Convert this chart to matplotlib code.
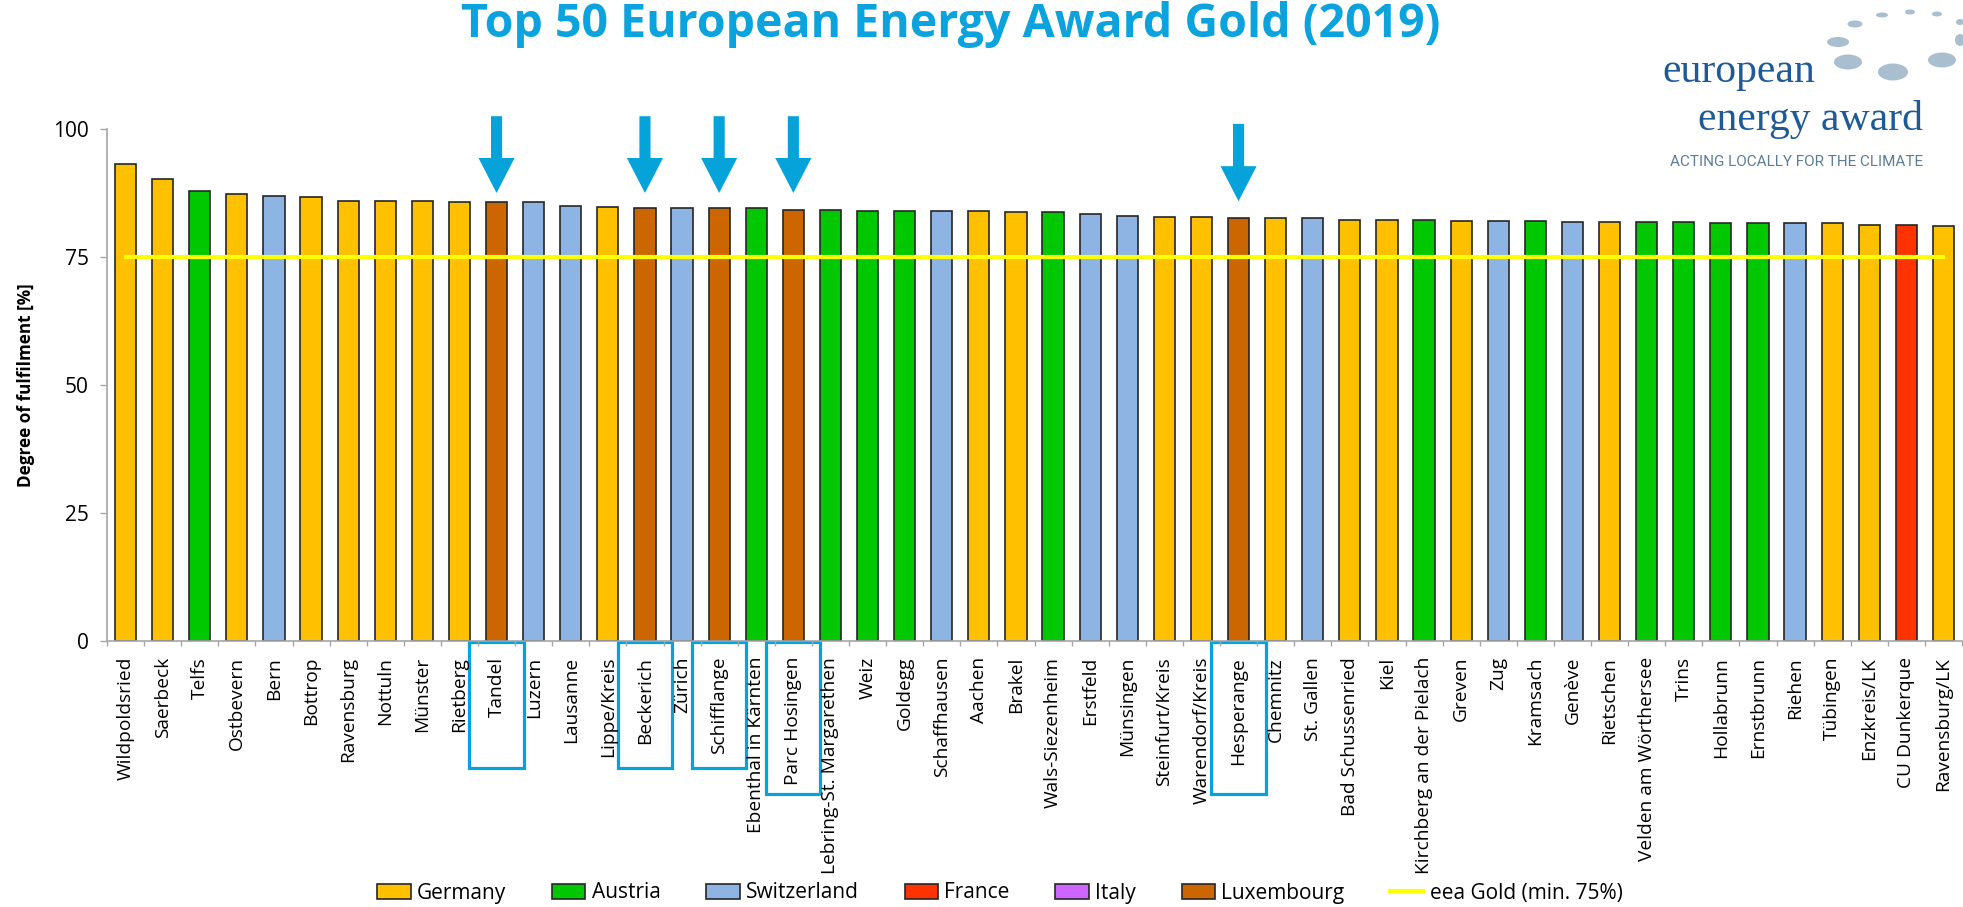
import numpy as np
import matplotlib
matplotlib.use("Agg")
import matplotlib.pyplot as plt
import matplotlib.transforms as mtransforms
from matplotlib.patches import Patch, Rectangle, Ellipse
from matplotlib.lines import Line2D

plt.rcParams['font.family'] = ['Open Sans', 'DejaVu Sans']

# data
towns = ["Wildpoldsried", "Saerbeck", "Telfs", "Ostbevern", "Bern", "Bottrop",
         "Ravensburg", "Nottuln", "Münster", "Rietberg", "Tandel", "Luzern",
         "Lausanne", "Lippe/Kreis", "Beckerich", "Zürich", "Schifflange",
         "Ebenthal in Kärnten", "Parc Hosingen", "Lebring-St. Margarethen",
         "Weiz", "Goldegg", "Schaffhausen", "Aachen", "Brakel", "Wals-Siezenheim",
         "Erstfeld", "Münsingen", "Steinfurt/Kreis", "Warendorf/Kreis",
         "Hesperange", "Chemnitz", "St. Gallen", "Bad Schussenried", "Kiel",
         "Kirchberg an der Pielach", "Greven", "Zug", "Kramsach", "Genève",
         "Rietschen", "Velden am Wörthersee", "Trins", "Hollabrunn", "Ernstbrunn",
         "Riehen", "Tübingen", "Enzkreis/LK", "CU Dunkerque", "Ravensburg/LK"]

country = ["Germany", "Germany", "Austria", "Germany", "Switzerland", "Germany",
           "Germany", "Germany", "Germany", "Germany", "Luxembourg", "Switzerland",
           "Switzerland", "Germany", "Luxembourg", "Switzerland", "Luxembourg",
           "Austria", "Luxembourg", "Austria",
           "Austria", "Austria", "Switzerland", "Germany", "Germany", "Austria",
           "Switzerland", "Switzerland", "Germany", "Germany",
           "Luxembourg", "Germany", "Switzerland", "Germany", "Germany",
           "Austria", "Germany", "Switzerland", "Austria", "Switzerland",
           "Germany", "Austria", "Austria", "Austria", "Austria",
           "Switzerland", "Germany", "Germany", "France", "Germany"]

scores = [93.2, 90.3, 87.9, 87.4, 87.0, 86.8, 86.0, 86.0, 86.0, 85.8,
          85.8, 85.8, 85.0, 84.7, 84.5, 84.5, 84.5, 84.5, 84.2, 84.2,
          83.9, 83.9, 83.9, 83.9, 83.7, 83.7, 83.4, 83.1, 82.9, 82.9,
          82.6, 82.6, 82.6, 82.3, 82.3, 82.3, 82.1, 82.1, 82.1, 81.8,
          81.8, 81.8, 81.8, 81.6, 81.6, 81.6, 81.6, 81.3, 81.3, 81.1]

gold_min = 75

legend_countries = ["Germany", "Austria", "Switzerland", "France", "Italy", "Luxembourg"]
colors = {"Germany": "#FFC000", "Austria": "#00C800", "Switzerland": "#8DB4E2",
          "France": "#FF3300", "Italy": "#CC66FF", "Luxembourg": "#CC6600"}

# the Luxembourg towns get an arrow and a box round the label
highlighted = ["Tandel", "Beckerich", "Schifflange", "Parc Hosingen", "Hesperange"]
arrow_tip = [87.5, 87.5, 87.5, 87.5, 85.9]
arrow_tail = [102.5, 102.5, 102.5, 102.5, 101.0]
box_depth = [0.246, 0.246, 0.246, 0.297, 0.297]

W, H = 1963, 907
blue = "#05A3DA"

fig = plt.figure(figsize=(W / 100, H / 100), dpi=100)
ax = fig.add_axes([107 / W, 266 / H, 1855 / W, 512 / H])

x = np.arange(len(towns))
ax.bar(x, scores, width=0.57, color=[colors[c] for c in country],
       edgecolor="#262626", linewidth=1.2, zorder=2)
ax.plot(x, [gold_min] * len(x), color="#FFFF00", lw=3, zorder=3)

ax.set_xlim(-0.5, len(towns) - 0.5)
ax.set_ylim(0, 100)
ax.set_yticks([0, 25, 50, 75, 100])
ax.set_xticks(x)
ax.set_xticklabels(towns, rotation=90, fontsize=13.8)
ax.set_xticks(np.arange(-0.5, len(towns), 1), minor=True)
ax.tick_params(axis="x", which="major", length=0, pad=11.5)
ax.tick_params(axis="x", which="minor", length=3.5, color="#A6A6A6", width=1)
ax.tick_params(axis="y", length=5, color="#A6A6A6", width=1, labelsize=15, pad=8)
for s in ["top", "right"]:
    ax.spines[s].set_visible(False)
for s in ["left", "bottom"]:
    ax.spines[s].set_color("#A6A6A6")
    ax.spines[s].set_linewidth(1.2)

ax.set_ylabel("Degree of fulfilment [%]", fontweight="bold", fontsize=12.3)
ax.yaxis.set_label_coords(-0.039, 0.5)

# arrows and label boxes
trans = mtransforms.blended_transform_factory(ax.transData, ax.transAxes)
for name, tip, tail, depth in zip(highlighted, arrow_tip, arrow_tail, box_depth):
    i = towns.index(name)
    ax.annotate("", xy=(i, tip), xytext=(i, tail), annotation_clip=False,
                arrowprops=dict(arrowstyle="simple,head_length=2.52,head_width=2.6,tail_width=0.8",
                                mutation_scale=10, fc=blue, ec="none",
                                shrinkA=0, shrinkB=0))
    ax.add_patch(Rectangle((i - 0.73, -0.002), 1.46, -depth, transform=trans,
                           clip_on=False, fill=False, ec=blue, lw=2.3))

fig.text(951 / W, 1 - 25 / H, "Top 50 European Energy Award Gold (2019)",
         ha="center", va="center", fontsize=33.5, fontweight="bold", color="#0BA3DD")

# logo top right
for (cx, cy, ew, eh) in [(1838, 42, 22, 10), (1848, 62, 28, 15), (1855, 24, 15, 7),
                         (1882, 15, 12, 5), (1910, 12, 10, 5), (1937, 14, 10, 5),
                         (1893, 72, 30, 17), (1942, 60, 28, 15), (1960, 40, 10, 12),
                         (1960, 22, 8, 6)]:
    fig.add_artist(Ellipse((cx / W, 1 - cy / H), ew / W, eh / H,
                           transform=fig.transFigure, color="#A9BFCF", lw=0))
fig.text(1662 / W, 1 - 82 / H, "european", family="Liberation Serif",
         fontsize=30, color="#1F5A96", ha="left", va="baseline")
fig.text(1923 / W, 1 - 130 / H, "energy award", family="Liberation Serif",
         fontsize=30, color="#1F5A96", ha="right", va="baseline")
fig.text(1923 / W, 1 - 166 / H, "ACTING LOCALLY FOR THE CLIMATE", family="Roboto",
         fontsize=11, color="#5B7D96", ha="right", va="baseline")

handles = [Patch(facecolor=colors[c], edgecolor="#262626", lw=1.2) for c in legend_countries]
handles.append(Line2D([], [], color="#FFFF00", lw=3))
labels = legend_countries + ["eea Gold (min. 75%)"]
fig.legend(handles, labels, loc="center", bbox_to_anchor=(1000 / W, 14 / H),
           ncol=7, frameon=False, fontsize=15, handlelength=1.6,
           handletextpad=0.3, columnspacing=2.2)

fig.savefig("out.png", dpi=100)
